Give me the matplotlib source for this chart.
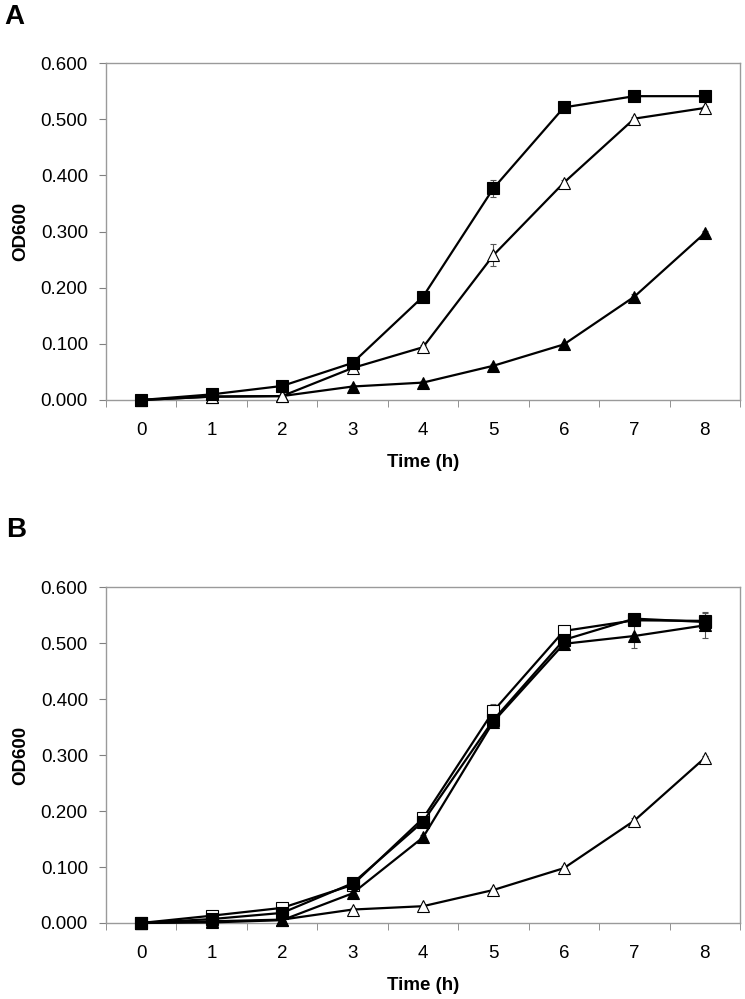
import numpy as np
import matplotlib.pyplot as plt

plt.rcParams['font.family'] = ['Liberation Sans', 'DejaVu Sans']

time_h = [0, 1, 2, 3, 4, 5, 6, 7, 8]

# panel A
a_sq_fill = [0.000, 0.010, 0.025, 0.066, 0.184, 0.377, 0.521, 0.541, 0.541]
a_sq_fill_err = [0.001, 0.002, 0.002, 0.003, 0.006, 0.015, 0.004, 0.003, 0.003]
a_tri_open = [0.000, 0.006, 0.007, 0.057, 0.094, 0.258, 0.387, 0.501, 0.520]
a_tri_open_err = [0.001, 0.001, 0.001, 0.003, 0.004, 0.020, 0.004, 0.003, 0.003]
a_tri_fill = [0.000, 0.006, 0.007, 0.024, 0.031, 0.061, 0.099, 0.184, 0.297]
a_tri_fill_err = [0.001, 0.001, 0.001, 0.002, 0.002, 0.003, 0.003, 0.004, 0.004]

# panel B
b_sq_fill = [0.000, 0.007, 0.018, 0.071, 0.181, 0.363, 0.506, 0.544, 0.538]
b_sq_fill_err = [0.001, 0.002, 0.002, 0.003, 0.005, 0.010, 0.004, 0.005, 0.010]
b_sq_open = [0.000, 0.013, 0.027, 0.068, 0.187, 0.379, 0.522, 0.541, 0.540]
b_sq_open_err = [0.001, 0.002, 0.002, 0.003, 0.005, 0.012, 0.004, 0.004, 0.015]
b_tri_fill = [0.000, 0.001, 0.005, 0.053, 0.153, 0.360, 0.499, 0.513, 0.532]
b_tri_fill_err = [0.001, 0.001, 0.001, 0.006, 0.004, 0.008, 0.004, 0.022, 0.022]
b_tri_open = [0.000, 0.003, 0.006, 0.024, 0.030, 0.059, 0.098, 0.183, 0.295]
b_tri_open_err = [0.001, 0.001, 0.001, 0.002, 0.002, 0.003, 0.003, 0.004, 0.004]

yticks = [0.0, 0.1, 0.2, 0.3, 0.4, 0.5, 0.6]
fs = 13.5


def series(ax, y, err, marker, filled, ms):
    ax.errorbar(time_h, y, yerr=err, color='black', lw=1.6, marker=marker,
                ms=ms, mfc='black' if filled else 'white', mec='black', mew=0.8,
                ecolor='#555555', elinewidth=0.8, capsize=2.5, capthick=0.8,
                zorder=3, clip_on=False)


def style(ax):
    ax.set_xlim(-0.5, 8.5)
    ax.set_ylim(0, 0.6)
    ax.set_yticks(yticks)
    ax.set_yticklabels(['%.3f' % v for v in yticks], fontsize=fs)
    ax.set_xticks(time_h)
    ax.set_xticklabels([str(t) for t in time_h], fontsize=fs)
    ax.set_xticks(np.arange(-0.5, 9.0, 1.0), minor=True)
    ax.tick_params(axis='x', which='major', length=0, pad=16)
    ax.tick_params(axis='x', which='minor', length=5, color='#808080', direction='out')
    ax.tick_params(axis='y', length=5, color='#808080', direction='out', pad=8)
    for s in ax.spines.values():
        s.set_color('#9a9a9a')
        s.set_linewidth(1.0)
    ax.set_xlabel('Time (h)', fontsize=fs, fontweight='bold', labelpad=11)
    ax.set_ylabel('OD600', fontsize=fs, fontweight='bold', labelpad=8)


fig = plt.figure(figsize=(7.45, 9.99), dpi=100)
axA = fig.add_axes([0.1423, 0.5996, 0.851, 0.3373])
axB = fig.add_axes([0.1423, 0.0761, 0.851, 0.336])

series(axA, a_tri_fill, a_tri_fill_err, '^', True, 8.5)
series(axA, a_tri_open, a_tri_open_err, '^', False, 8.5)
series(axA, a_sq_fill, a_sq_fill_err, 's', True, 8.5)
style(axA)

series(axB, b_tri_open, b_tri_open_err, '^', False, 8.5)
series(axB, b_sq_open, b_sq_open_err, 's', False, 8.5)
series(axB, b_tri_fill, b_tri_fill_err, '^', True, 8.5)
series(axB, b_sq_fill, b_sq_fill_err, 's', True, 8.5)
style(axB)

fig.text(0.006, 0.983, 'A', fontsize=20, fontweight='bold', va='center')
fig.text(0.008, 0.4695, 'B', fontsize=20, fontweight='bold', va='center')

fig.savefig('out.png', dpi=100)
